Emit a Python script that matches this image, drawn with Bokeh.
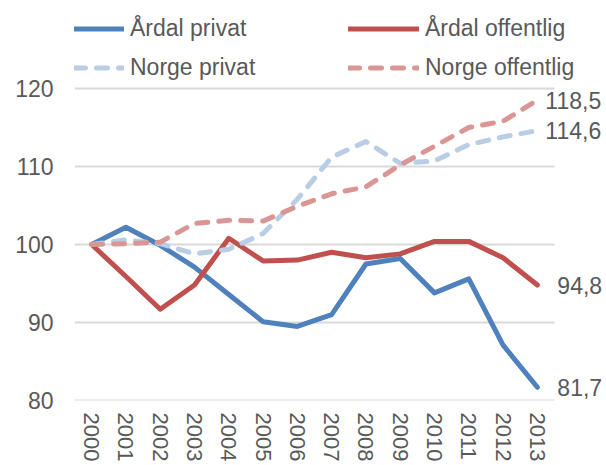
import math
from bokeh.plotting import figure
from bokeh.models import (ColumnDataSource, Range1d, FixedTicker, Legend, LegendItem,
                          Label, CustomJSTickFormatter)
from bokeh.embed import file_html
from bokeh.resources import INLINE

years = [str(y) for y in range(2000, 2014)]
ardal_privat = [100, 102.2, 99.9, 97.1, 93.6, 90.1, 89.5, 91.0, 97.5, 98.2, 93.8, 95.6, 87.1, 81.7]
ardal_offentlig = [100, 95.9, 91.7, 94.8, 100.8, 97.9, 98.0, 99.0, 98.3, 98.8, 100.4, 100.4, 98.3, 94.8]
norge_privat = [100, 100.6, 100.1, 98.8, 99.4, 101.4, 105.8, 111.2, 113.2, 110.4, 110.7, 112.8, 113.8, 114.6]
norge_offentlig = [100, 100.1, 100.3, 102.7, 103.1, 103.0, 104.9, 106.5, 107.4, 110.2, 112.6, 115.0, 115.8, 118.5]
y_ticks = [80, 90, 100, 110, 120]

FONT = "Liberation Sans"
TXT = "#595959"

n = len(years)
xpos = [i + 0.5 for i in range(n)]          # centre of each year's band
# the frame also holds the legend (top) and the end labels (right)
X_END = n * 532 / 480
Y_END = 80 + 40 * 400 / 312

p = figure(width=606, height=465, x_range=Range1d(0, X_END), y_range=Range1d(80, Y_END),
           output_backend="svg", toolbar_location=None,
           min_border_left=74, min_border_right=0, min_border_top=0, min_border_bottom=65)
p.outline_line_color = None
p.background_fill_color = "white"
p.border_fill_color = "white"
p.xgrid.grid_line_color = None
p.ygrid.grid_line_color = None

# horizontal gridlines across the year bands only
p.segment(x0=[0] * len(y_ticks), x1=[n] * len(y_ticks), y0=y_ticks, y1=y_ticks,
          line_color="#D9D9D9", line_width=2)

p.yaxis.ticker = FixedTicker(ticks=y_ticks)
p.xaxis.ticker = FixedTicker(ticks=xpos)
p.xaxis.formatter = CustomJSTickFormatter(args=dict(years=years),
                                          code="return years[Math.floor(tick)]")

for ax in (p.xaxis[0], p.yaxis[0]):
    ax.axis_line_color = None
    ax.major_tick_line_color = None
    ax.minor_tick_line_color = None
    ax.major_label_text_font = FONT
    ax.major_label_text_color = TXT
p.yaxis.major_label_text_font_size = "23px"
p.yaxis.major_label_standoff = 15
p.xaxis.major_label_text_font_size = "22px"
p.xaxis.major_label_orientation = -math.pi / 2
p.xaxis.major_label_standoff = 6

src = ColumnDataSource(dict(x=xpos, ap=ardal_privat, ao=ardal_offentlig,
                            np_=norge_privat, no=norge_offentlig))

r1 = p.line("x", "ap", source=src, line_color="#4F81BD", line_width=5, line_join="round", line_cap="round")
r2 = p.line("x", "ao", source=src, line_color="#C0504D", line_width=5, line_join="round", line_cap="round")
r3 = p.line("x", "np_", source=src, line_color="#B9CDE5", line_width=5, line_join="round",
            line_cap="round", line_dash="11 11")
r4 = p.line("x", "no", source=src, line_color="#D99694", line_width=5, line_join="round",
            line_cap="round", line_dash="11 11")

def fmt(v):
    return f"{v:.1f}".replace(".", ",")

for series, off in ((norge_offentlig, 8), (norge_privat, 8),
                    (ardal_offentlig, 20), (ardal_privat, 20)):
    p.add_layout(Label(x=xpos[-1], y=series[-1], text=fmt(series[-1]), x_offset=off,
                       text_font=FONT, text_font_size="23px", text_color=TXT,
                       text_baseline="middle", text_align="left"))

def mk_legend(items, vx, gw):
    lg = Legend(items=items, location=(vx, 313.5), orientation="vertical",
                padding=0, margin=0, spacing=0, glyph_width=gw, glyph_height=39,
                label_height=39, label_standoff=6, border_line_color=None,
                background_fill_alpha=0, label_text_font=FONT,
                label_text_font_size="23px", label_text_color=TXT)
    p.add_layout(lg, "center")

mk_legend([LegendItem(label="Årdal privat", renderers=[r1]),
           LegendItem(label="Norge privat", renderers=[r3])], 0, 50)
mk_legend([LegendItem(label="Årdal offentlig", renderers=[r2]),
           LegendItem(label="Norge offentlig", renderers=[r4])], 274, 71)

open("out.html", "w").write(file_html(p, INLINE))
